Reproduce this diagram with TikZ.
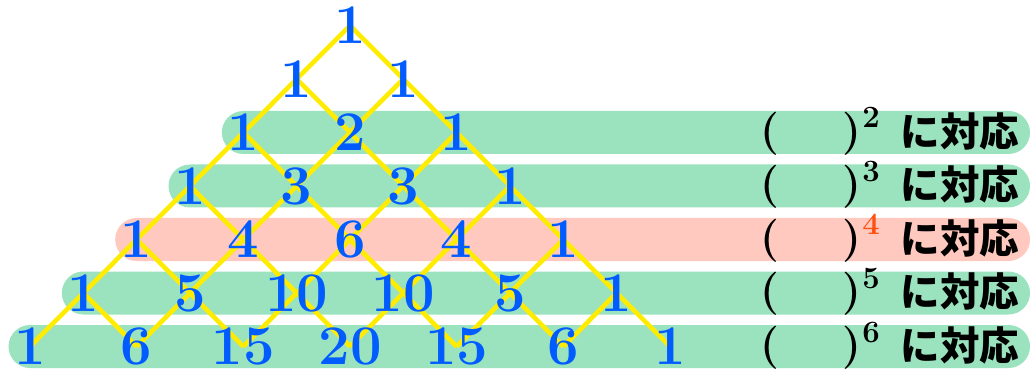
\documentclass[tikz,border=0pt]{standalone}
\usepackage{fontspec}
\newfontfamily\jpfont{Noto Sans CJK JP}
\definecolor{rowgreen}{RGB}{155,227,191}
\definecolor{rowpink}{RGB}{255,201,191}
\definecolor{numblue}{RGB}{0,92,255}
\definecolor{latyellow}{RGB}{255,236,0}
\definecolor{expred}{RGB}{255,80,15}
\tikzset{
  num/.style={inner sep=0pt, text=numblue, font=\fontsize{56}{60}\selectfont\bfseries},
  lattice/.style={draw=latyellow, line width=4.6pt, line join=round},
  rowbar/.style={rounded corners=21.5pt},
  paren/.style={inner sep=0pt, font=\fontsize{43}{46}\selectfont\bfseries},
  expo/.style={inner sep=0pt, anchor=base, font=\fontsize{31}{34}\selectfont\bfseries},
  jptext/.style={inner sep=0pt, font=\fontsize{39.5}{42}\selectfont\jpfont\bfseries},
}
\begin{document}
\begin{tikzpicture}[x=1pt,y=-1pt]
\useasboundingbox (0,0) rectangle (1032,371);
% lattice geometry
\def\cx{350}\def\dx{53.33}\def\dy{53.5}\def\ytop{25.5}
% row bars for rows 2..6
\foreach \r in {2,...,6}{
  \pgfmathsetmacro{\yc}{\ytop+\r*\dy}
  \pgfmathsetmacro{\xl}{\cx-\r*\dx-21.5}
  \ifnum\r=4 \def\barcol{rowpink}\else\def\barcol{rowgreen}\fi
  \fill[rowbar, fill=\barcol] (\xl,\yc-21.5) rectangle (1030,\yc+21.5);
}
% binomial coefficients
\foreach \r/\vals in {0/{1},1/{1,1},2/{1,2,1},3/{1,3,3,1},4/{1,4,6,4,1},5/{1,5,10,10,5,1},6/{1,6,15,20,15,6,1}}{
  \foreach \v [count=\k from 0] in \vals {
    \pgfmathsetmacro{\xn}{\cx+(2*\k-\r)*\dx}
    \pgfmathsetmacro{\yn}{\ytop+\r*\dy}
    \coordinate (p-\r-\k) at (\xn,\yn);
  }
}
% yellow lattice lines
\foreach \r in {0,...,5}{
  \pgfmathtruncatemacro{\e}{6-\r}
  \draw[lattice] (p-\r-0) -- (p-6-\e);
  \draw[lattice] (p-\r-\r) -- (p-6-\r);
}
% numbers on top
\foreach \r/\vals in {0/{1},1/{1,1},2/{1,2,1},3/{1,3,3,1},4/{1,4,6,4,1},5/{1,5,10,10,5,1},6/{1,6,15,20,15,6,1}}{
  \foreach \v [count=\k from 0] in \vals {
    \node[num] (n-\r-\k) at (p-\r-\k) {\v};
  }
}
% right-hand labels
\foreach \r in {2,...,6}{
  \pgfmathsetmacro{\yc}{\ytop+\r*\dy}
  \node[paren] (lp-\r) at (770,\yc+1) {(};
  \node[paren] (rp-\r) at (852,\yc+1) {)};
  \node[jptext] (jp-\r) at (960,\yc-1.5) {に対応};
}
\foreach \r in {2,3,5,6}{
  \pgfmathsetmacro{\yb}{\ytop+\r*\dy-4.5}
  \node[expo] (ex-\r) at (871,\yb) {\r};
}
\pgfmathsetmacro{\yb}{\ytop+4*\dy-4.5}
\node[expo, text=expred] (ex-4) at (871,\yb) {4};
\end{tikzpicture}
\end{document}
